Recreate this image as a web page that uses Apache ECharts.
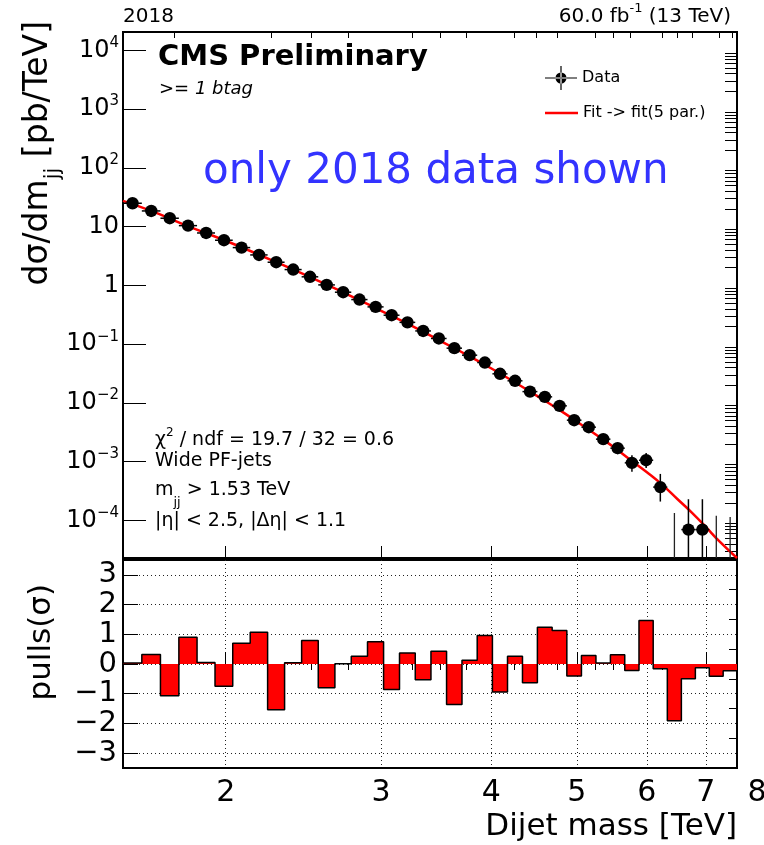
<!DOCTYPE html>
<html>
<head>
<meta charset="utf-8">
<script src="https://cdn.jsdelivr.net/npm/echarts@6/dist/echarts.min.js"></script>
<style>
html, body { margin: 0; padding: 0; background: #fff; }
#main { width: 764px; height: 845px; }
</style>
</head>
<body>
<div id="main"></div>
<script>
// dijet mass bin edges [TeV]
var binEdges = [1.530, 1.607, 1.687, 1.770, 1.856, 1.945, 2.037, 2.132, 2.231, 2.332,
    2.438, 2.546, 2.659, 2.775, 2.895, 3.019, 3.147, 3.279, 3.416, 3.558,
    3.704, 3.854, 4.010, 4.171, 4.337, 4.509, 4.686, 4.869, 5.058, 5.253,
    5.455, 5.663, 5.877, 6.099, 6.328, 6.564, 6.808, 7.060, 7.320, 7.589];
// d sigma / dm [pb/TeV], one per bin (0 = empty bin)
var dataValues = [25.0, 18.5, 13.9, 10.4, 7.8, 5.87, 4.40, 3.30, 2.48, 1.86,
    1.40, 1.02, 0.766, 0.574, 0.431, 0.311, 0.235, 0.168, 0.125, 0.0855,
    0.065, 0.0487, 0.0313, 0.0238, 0.0156, 0.0127, 0.00893, 0.00509, 0.00387, 0.00242,
    0.0017, 0.000957, 0.00106, 0.00037, 0, 7.0e-5, 7.0e-5, 0, 0];
var errUp = [0, 0, 0, 0, 0, 0, 0, 0, 0, 0,
    0, 0, 0, 0, 0, 0, 0, 0, 0, 0,
    0, 0, 0, 0, 0, 0.0011, 0.0009, 0.00068, 0.00063, 0.0005,
    0.00041, 0.00033, 0.00035, 0.00025, 1.34e-4, 1.6e-4, 1.6e-4, 1.2e-4, 1.15e-4];
var errDn = [0, 0, 0, 0, 0, 0, 0, 0, 0, 0,
    0, 0, 0, 0, 0, 0, 0, 0, 0, 0,
    0, 0, 0, 0, 0, 0.0011, 0.0009, 0.00068, 0.00057, 0.00044,
    0.00036, 0.00028, 0.00028, 0.00016, 0, 5.8e-5, 5.8e-5, 0, 0];
var pulls = [0.03, 0.32, -1.07, 0.90, 0.05, -0.75, 0.70, 1.07, -1.54, 0.04,
    0.79, -0.80, 0.01, 0.26, 0.75, -0.86, 0.37, -0.53, 0.43, -1.36,
    0.13, 0.96, -0.94, 0.26, -0.63, 1.24, 1.13, -0.40, 0.29, 0.03,
    0.31, -0.22, 1.46, -0.16, -1.91, -0.50, -0.13, -0.41, -0.23];
// fit curve
var fitMass = [1.53, 1.65, 1.80, 2.00, 2.25, 2.50, 2.75, 3.00, 3.25, 3.50,
    3.75, 4.00, 4.25, 4.50, 4.75, 5.00, 5.25, 5.50, 5.75, 6.00,
    6.25, 6.50, 6.75, 7.00, 7.25, 7.589];
var fitValue = [27.5, 18.3, 10.6, 5.75, 2.72, 1.36, 0.70, 0.37, 0.205, 0.114,
    0.066, 0.0385, 0.0225, 0.0133, 0.0080, 0.0048, 0.0029, 0.00178, 0.00107, 0.00066,
    0.00040, 0.00023, 0.000135, 0.000077, 0.000044, 0.000023];

var massTicks = [2, 3, 4, 5, 6, 7];
var massMinorTicks = [1.75, 2.25, 2.5, 2.75, 3.25, 3.5, 3.75, 4.25, 4.5, 4.75,
    5.25, 5.5, 5.75, 6.25, 6.5, 6.75, 7.25, 7.5];
var massLabels = [2, 3, 4, 5, 6, 7, 8];
var decadeTicks = [1e-4, 1e-3, 1e-2, 1e-1, 1, 10, 100, 1e3, 1e4];
var pullTicks = [-3, -2, -1, 0, 1, 2, 3];
var pullMinorTicks = [-2.5, -1.5, -0.5, 0.5, 1.5, 2.5];

var X_MIN = 1.53, X_MAX = 7.589, Y_MIN = 2.3e-5, Y_MAX = 2.05e4;
var FONT = 'DejaVu Sans';

var yMinorTicks = [];
[1e-5, 1e-4, 1e-3, 1e-2, 1e-1, 1, 10, 100, 1e3, 1e4].forEach(function (d) {
    for (var k = 2; k <= 9; k++) yMinorTicks.push(+(k * d).toPrecision(3));
});

var dataItems = dataValues.map(function (v, i) {
    return [binEdges[i], binEdges[i + 1], v, errUp[i], errDn[i]];
});
var fitData = fitMass.map(function (m, i) { return [m, fitValue[i]]; });
var pullData = pulls.map(function (p, i) { return [binEdges[i], p]; });
pullData.push([binEdges[binEdges.length - 1], pulls[pulls.length - 1]]);

function tickAxis(type, grid, min, max, ticks, len) {
    return {
        type: type, gridIndex: grid, min: min, max: max,
        axisLine: { show: false },
        axisTick: { show: true, inside: true, length: len, customValues: ticks,
            lineStyle: { color: '#000', width: 1 } },
        axisLabel: { show: false },
        splitLine: { show: false }
    };
}

function supLabel(v) {
    var e = Math.round(Math.log10(v));
    if (e === 0) return '{b|1}';
    if (e === 1) return '{b|10}';
    return '{b|10}{s|' + (e < 0 ? '\u2212' + (-e) : e) + '}';
}

var dotted = { show: true, lineStyle: { color: '#222', width: 1, type: [1, 3] } };

var xMain = tickAxis('log', 0, X_MIN, X_MAX, massTicks, 12);
var xMainMinor = tickAxis('log', 0, X_MIN, X_MAX, massMinorTicks, 6);
var xPull = tickAxis('log', 1, X_MIN, X_MAX, massTicks, 12);
xPull.splitLine = dotted;
var xPullMinor = tickAxis('log', 1, X_MIN, X_MAX, massMinorTicks, 6);
var xLabels = {
    type: 'log', gridIndex: 2, min: X_MIN, max: 8,
    axisLine: { show: false }, axisTick: { show: false }, splitLine: { show: false },
    axisLabel: { show: true, customValues: massLabels, fontSize: 30, fontFamily: FONT,
        color: '#000', margin: 10, showMinLabel: true, showMaxLabel: true }
};

var yMain = tickAxis('log', 0, Y_MIN, Y_MAX, decadeTicks, 23);
yMain.axisLabel = {
    show: true, customValues: decadeTicks, margin: 4, formatter: supLabel,
    showMinLabel: true, showMaxLabel: true,
    rich: {
        b: { fontSize: 24, fontFamily: FONT, color: '#000', lineHeight: 30, verticalAlign: 'middle' },
        s: { fontSize: 15, fontFamily: FONT, color: '#000', lineHeight: 15, verticalAlign: 'top' }
    }
};
var yMainMinor = tickAxis('log', 0, Y_MIN, Y_MAX, yMinorTicks, 12);
var yPull = tickAxis('value', 1, -3.5, 3.5, pullTicks, 15);
yPull.splitLine = dotted;
yPull.axisLabel = {
    show: true, customValues: pullTicks, margin: 6, fontSize: 29, lineHeight: 24,
    fontFamily: FONT, color: '#000', showMinLabel: true, showMaxLabel: true, hideOverlap: false,
    formatter: function (v) { return v < 0 ? '\u2212' + (-v) : String(v); }
};
var yPullMinor = tickAxis('value', 1, -3.5, 3.5, pullMinorTicks, 8);
var yHidden = { type: 'value', gridIndex: 2, show: false, min: 0, max: 1 };

function txt(x, y, text, rich, extra) {
    var el = {
        type: 'text', x: x, y: y, silent: true,
        style: { text: text, rich: rich, textAlign: 'left', textVerticalAlign: 'middle', fill: '#000' }
    };
    if (extra) {
        if (extra.align) el.style.textAlign = extra.align;
        if (extra.rotation) el.rotation = extra.rotation;
    }
    return el;
}
function r(size, lh, va, more) {
    var o = { fontSize: size, fontFamily: FONT, fill: '#000', lineHeight: lh, verticalAlign: va };
    for (var k in more) o[k] = more[k];
    return o;
}

var DATA_ICON = 'path://M0,11.4H32V12.6H0Z M15.4,0H16.6V24H15.4Z M10.5,12A5.5,5.5,0,1,0,21.5,12A5.5,5.5,0,1,0,10.5,12Z';
var legendText = { fontSize: 16, fontFamily: FONT, color: '#000' };

var chart = echarts.init(document.getElementById('main'));
chart.setOption({
    animation: false,
    backgroundColor: '#fff',
    textStyle: { fontFamily: FONT },
    grid: [
        { left: 123, top: 32, width: 614, height: 526, show: true, borderColor: '#000', borderWidth: 2, outerBoundsMode: 'none' },
        { left: 123, top: 560, width: 614, height: 208, show: true, borderColor: '#000', borderWidth: 2, outerBoundsMode: 'none' },
        { left: 123, top: 560, width: 634, height: 208, show: false, outerBoundsMode: 'none' }
    ],
    xAxis: [xMain, xMainMinor, xPull, xPullMinor, xLabels],
    yAxis: [yMain, yMainMinor, yPull, yPullMinor, yHidden],
    legend: [
        {
            left: 545, top: 66, padding: 0, itemWidth: 32, itemHeight: 24,
            selectedMode: false, textStyle: legendText,
            data: [{ name: 'Data', icon: DATA_ICON }]
        },
        {
            left: 545, top: 105, padding: 0, itemWidth: 33, itemHeight: 2.5,
            selectedMode: false, textStyle: legendText,
            data: [{ name: 'Fit -> fit(5 par.)', icon: 'rect' }]
        }
    ],
    series: [
        {
            name: 'Fit -> fit(5 par.)', type: 'line', xAxisIndex: 0, yAxisIndex: 0,
            data: fitData, smooth: true, symbol: 'none', silent: true, z: 2,
            lineStyle: { color: '#ff0000', width: 2.5 }, itemStyle: { color: '#ff0000' }
        },
        {
            name: 'Data', type: 'custom', xAxisIndex: 0, yAxisIndex: 0, z: 3, clip: true,
            data: dataItems, encode: { x: [0, 1], y: [2] },
            itemStyle: { color: '#000' },
            renderItem: function (params, api) {
                var lo = api.value(0), hi = api.value(1), v = api.value(2);
                var up = api.value(3), dn = api.value(4);
                var c = (lo + hi) / 2;
                var ls = { stroke: '#000', lineWidth: 1.5 };
                var kids = [];
                if (v > 0) {
                    var a = api.coord([lo, v]), b = api.coord([hi, v]), p = api.coord([c, v]);
                    kids.push({ type: 'line', shape: { x1: a[0], y1: a[1], x2: b[0], y2: b[1] }, style: ls });
                    if (up > 0) {
                        var t = api.coord([c, v + up]);
                        var d = api.coord([c, Math.max(v - dn, Y_MIN / 10)]);
                        kids.push({ type: 'line', shape: { x1: t[0], y1: t[1], x2: d[0], y2: d[1] }, style: ls });
                    }
                    kids.push({ type: 'circle', shape: { cx: p[0], cy: p[1], r: 6.2 }, style: { fill: '#000' } });
                } else {
                    var t2 = api.coord([c, up]), d2 = api.coord([c, Y_MIN / 10]);
                    kids.push({ type: 'line', shape: { x1: t2[0], y1: t2[1], x2: d2[0], y2: d2[1] },
                        style: { stroke: '#222', lineWidth: 1.3 } });
                }
                return { type: 'group', children: kids };
            }
        },
        {
            name: 'pulls', type: 'line', xAxisIndex: 2, yAxisIndex: 2, step: 'end',
            data: pullData, symbol: 'none', silent: true,
            lineStyle: { color: '#000', width: 1.5 },
            areaStyle: { color: '#ff0000', opacity: 1 }
        }
    ],
    graphic: [
        txt(123, 17, '{b|2018}', { b: r(20, 26, 'middle') }),
        txt(731, 17, '{b|60.0 fb}{s|-1}{b| (13 TeV)}', { b: r(20, 29, 'middle'), s: r(13, 13, 'top') }, { align: 'right' }),
        txt(158, 57, '{b|CMS Preliminary}', { b: r(29, 34, 'middle', { fontWeight: 'bold' }) }),
        txt(159, 89, '{b|>= 1 btag}', { b: r(18, 24, 'middle', { fontStyle: 'italic' }) }),
        txt(203, 172, '{b|only 2018 data shown}', { b: r(42, 50, 'middle', { fill: '#3333ff' }) }),
        txt(155, 440, '{b|\u03c7}{s|2}{b| / ndf = 19.7 / 32 = 0.6}', { b: r(19, 26, 'middle'), s: r(12, 12, 'top') }),
        txt(155, 461, '{b|Wide PF-jets}', { b: r(19, 26, 'middle') }),
        txt(155, 490, '{b|m}{s|jj}{b| > 1.53 TeV}', { b: r(19, 39, 'middle'), s: r(13, 13, 'bottom') }),
        txt(155, 521, '{b||\u03b7| < 2.5, |\u0394\u03b7| < 1.1}', { b: r(19, 26, 'middle') }),
        txt(38, 21, '{b|d\u03c3/dm}{s|jj}{b| [pb/TeV]}', { b: r(33, 52, 'middle'), s: r(21, 21, 'bottom') },
            { align: 'right', rotation: Math.PI / 2 }),
        txt(42, 584, '{b|pulls(\u03c3)}', { b: r(31, 36, 'middle') }, { align: 'right', rotation: Math.PI / 2 }),
        txt(737, 827, '{b|Dijet mass [TeV]}', { b: r(31, 36, 'middle') }, { align: 'right' })
    ]
});
</script>
</body>
</html>
